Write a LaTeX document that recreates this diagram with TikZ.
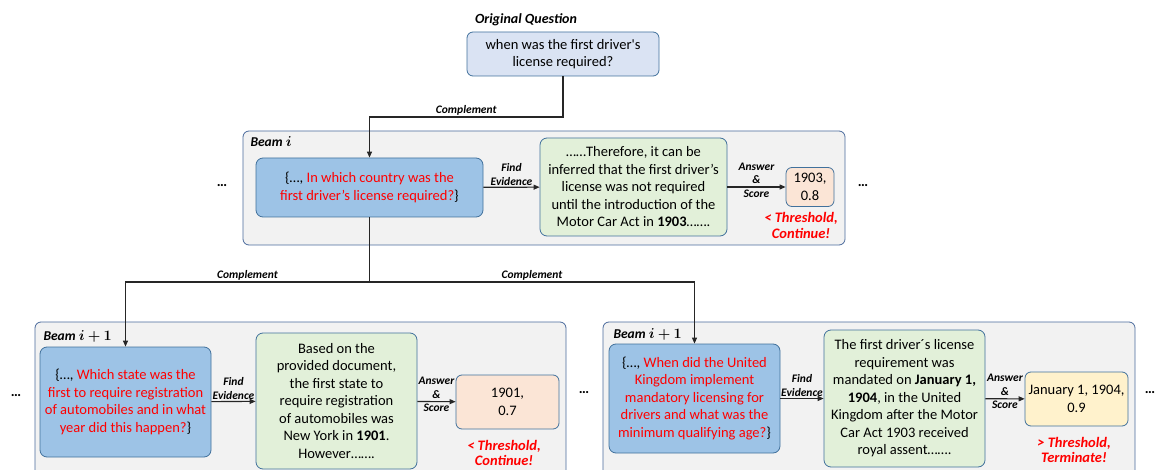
\documentclass[tikz,border=0pt]{standalone}
\usepackage{fontspec}
\setmainfont{Carlito}
\usepackage{amsmath}
\usepackage{bm}
\usetikzlibrary{arrows.meta}

\definecolor{boxline}{HTML}{41719C}
\definecolor{beamline}{HTML}{4A6A9C}
\definecolor{beamgray}{HTML}{F2F2F2}
\definecolor{origblue}{HTML}{DAE3F3}
\definecolor{qblue}{HTML}{9DC3E6}
\definecolor{evgreen}{HTML}{E2F0D9}
\definecolor{ansorange}{HTML}{FBE5D6}
\definecolor{ansyellow}{HTML}{FFF2CC}
\definecolor{qred}{HTML}{FF0000}
\definecolor{linkgray}{HTML}{262626}

\newcommand{\redq}[1]{\textcolor{qred}{#1}}

\begin{document}
\begin{tikzpicture}[x=1pt,y=-1pt,
    every node/.style={font=\fontsize{14.5}{17.5}\selectfont},
    beambox/.style={draw=beamline,fill=beamgray,rounded corners=6pt,line width=0.8pt},
    beamlbl/.style={anchor=west,font=\fontsize{13.5}{16}\selectfont\bfseries\itshape},
    origbox/.style={draw=boxline,fill=origblue,rounded corners=6pt,line width=0.8pt,align=center},
    qbox/.style={draw=boxline,fill=qblue,rounded corners=7pt,line width=0.8pt,align=center,inner sep=2pt},
    evbox/.style={draw=boxline,fill=evgreen,rounded corners=7pt,line width=0.8pt,align=center,inner sep=2pt},
    ansbox/.style={draw=boxline,fill=ansorange,rounded corners=6pt,line width=0.8pt,align=center,inner sep=2pt},
    verdict/.style={align=center,text=qred,font=\fontsize{14.5}{15.5}\selectfont\bfseries\itshape},
    edgelbl/.style={align=center,inner sep=1.5pt,font=\fontsize{11.5}{13.5}\selectfont\bfseries\itshape},
    title/.style={font=\fontsize{14}{16}\selectfont\bfseries\itshape},
    flow/.style={draw=linkgray,line width=1.1pt,-{Triangle[length=6pt,width=5pt]}},
    link/.style={draw=linkgray,line width=1.1pt}]
    \useasboundingbox (0,0) rectangle (1156,470);
    \clip (0,0) rectangle (1156,470);

    \node[title] (origlbl) at (526,20) {Original Question};
    \node[origbox,minimum width=192,minimum height=44] (orig) at (563,54) {when was the first driver\textquotesingle s\\license required?};

    % beam i
    \node[beambox,minimum width=602,minimum height=114] (beamA) at (544,188) {};
    \node[beamlbl] (beamAlbl) at (247,142) {Beam $\bm{i}$};
    \node[qbox,minimum width=227,minimum height=59] (qA) at (369.5,187.5) {\{…, \redq{In which country was the}\\\redq{first driver’s license required?}\}};
    \node[evbox,minimum width=187,minimum height=98] (evA) at (633.5,187) {……Therefore, it can be\\inferred that the first driver’s\\license was not required\\until the introduction of the\\Motor Car Act in \textbf{1903}…….};
    \node[ansbox,minimum width=48,minimum height=39] (ansA) at (810,187) {1903,\\0.8};
    \node[verdict] (verA) at (801,225.5) {< Threshold,\\Continue!};
    \node (dotsA1) at (222,186) {\textbf{…}};
    \node (dotsA2) at (863,186) {\textbf{…}};

    % beam i+1, left
    \node[beambox,minimum width=531,minimum height=160] (beamB) at (300.5,402) {};
    \node[beamlbl] (beamBlbl) at (40,336) {Beam $\bm{i+1}$};
    \node[qbox,minimum width=171,minimum height=110] (qB) at (125.5,402) {\{…, \redq{Which state was the}\\\redq{first to require registration}\\\redq{of automobiles and in what}\\\redq{year did this happen?}\}};
    \node[evbox,minimum width=161,minimum height=136] (evB) at (336.5,401) {Based on the\\provided document,\\the first state to\\require registration\\of automobiles was\\New York in \textbf{1901}.\\However…….};
    \node[ansbox,minimum width=103,minimum height=54] (ansB) at (507.5,402) {1901,\\0.7};
    \node[verdict] (verB) at (504,453) {< Threshold,\\Continue!};
    \node (dotsB1) at (16,396) {\textbf{…}};
    \node (dotsB2) at (584,393) {\textbf{…}};

    % beam i+1, right
    \node[beambox,minimum width=532,minimum height=160] (beamC) at (869,402) {};
    \node[beamlbl] (beamClbl) at (610,334) {Beam $\bm{i+1}$};
    \node[qbox,minimum width=171,minimum height=109] (qC) at (694.5,398.5) {\{…, \redq{When did the United}\\\redq{Kingdom implement}\\\redq{mandatory licensing for}\\\redq{drivers and what was the}\\\redq{minimum qualifying age?}\}};
    \node[evbox,minimum width=161,minimum height=137] (evC) at (904.5,398.5) {The first driver´s license\\requirement was\\mandated on \textbf{January 1,}\\\textbf{1904}, in the United\\Kingdom after the Motor\\Car Act 1903 received\\royal assent…….};
    \node[ansbox,fill=ansyellow,minimum width=103,minimum height=54] (ansC) at (1076.5,399) {January 1, 1904,\\0.9};
    \node[verdict] (verC) at (1074,450) {> Threshold,\\Terminate!};
    \node (dotsC) at (1150,393) {\textbf{…}};

    \coordinate (bendA) at (369.5,117);
    \coordinate (split) at (369.5,282);
    \draw[flow] (orig.south) |- node[edgelbl,pos=0.75,above] {Complement} (bendA) -- (qA.north);
    \draw[link] (qA.south) -- (split);
    \draw[flow] (split) -| node[edgelbl,pos=0.25,above] {Complement} (qB.north);
    \draw[flow] (split) -| node[edgelbl,pos=0.25,above] {Complement} (qC.north);

    \draw[flow] (qA) -- node[edgelbl,above] {Find\\Evidence} (evA);
    \draw[flow] (evA) -- node[edgelbl,yshift=7pt] {Answer\\\&\\Score} (ansA);
    \draw[flow] (qB) -- node[edgelbl,above] {Find\\Evidence} (evB);
    \draw[flow] (evB) -- node[edgelbl,yshift=7pt] {Answer\\\&\\Score} (ansB);
    \draw[flow] (qC) -- node[edgelbl,above] {Find\\Evidence} (evC);
    \draw[flow] (evC) -- node[edgelbl,yshift=7pt] {Answer\\\&\\Score} (ansC);
\end{tikzpicture}
\end{document}
